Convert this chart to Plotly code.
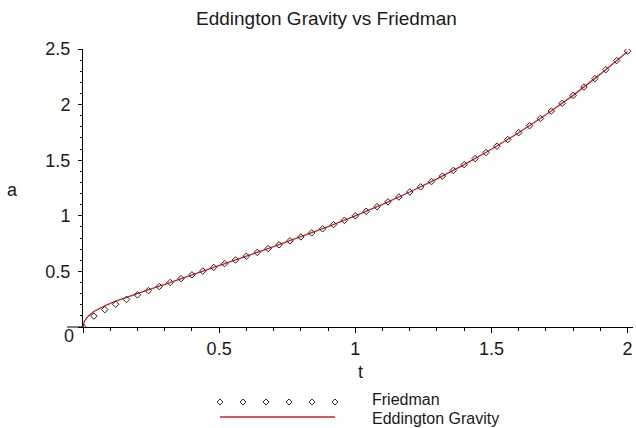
import plotly.graph_objects as go

# ---- data ----
friedman_t = [0.00, 0.04, 0.08, 0.12, 0.16, 0.20, 0.24, 0.28, 0.32, 0.36,
              0.40, 0.44, 0.48, 0.52, 0.56, 0.60, 0.64, 0.68, 0.72, 0.76,
              0.80, 0.84, 0.88, 0.92, 0.96, 1.00, 1.04, 1.08, 1.12, 1.16,
              1.20, 1.24, 1.28, 1.32, 1.36, 1.40, 1.44, 1.48, 1.52, 1.56,
              1.60, 1.64, 1.68, 1.72, 1.76, 1.80, 1.84, 1.88, 1.92, 1.96, 2.00]
friedman_a = [0.000, 0.098, 0.156, 0.205, 0.248, 0.289, 0.327, 0.364, 0.400, 0.435,
              0.469, 0.503, 0.536, 0.570, 0.603, 0.637, 0.671, 0.705, 0.739, 0.775,
              0.810, 0.846, 0.883, 0.921, 0.959, 1.000, 1.040, 1.082, 1.125, 1.169,
              1.214, 1.260, 1.308, 1.357, 1.408, 1.460, 1.514, 1.569, 1.626, 1.686,
              1.747, 1.810, 1.875, 1.942, 2.012, 2.083, 2.158, 2.234, 2.314, 2.396, 2.481]

eddington_t = [0.0, 0.005, 0.01, 0.02, 0.04, 0.08, 0.12, 0.16, 0.20, 0.25, 0.30,
               0.40, 0.50, 0.60, 0.70, 0.80, 0.90, 1.00, 1.10, 1.20, 1.30, 1.40,
               1.50, 1.60, 1.70, 1.80, 1.90, 2.00]
eddington_a = [0.0, 0.05, 0.07, 0.10, 0.14, 0.19, 0.232, 0.268, 0.300, 0.342, 0.383,
               0.470, 0.553, 0.637, 0.722, 0.810, 0.902, 1.000, 1.103, 1.214, 1.332, 1.460,
               1.598, 1.747, 1.908, 2.083, 2.274, 2.478]

x_tickvals = [0, 0.5, 1, 1.5, 2]
x_ticktext = ["", "0.5", "1", "1.5", "2"]
y_tickvals = [0, 0.5, 1, 1.5, 2, 2.5]
y_ticktext = ["", "0.5", "1", "1.5", "2", "2.5"]

title_text = "Eddington Gravity vs Friedman"
series_names = ["Friedman", "Eddington Gravity"]

# ---- layout geometry (pixels) ----
W, H = 636, 428
L, R, T, B = 83, 3, 49, 101
PW, PH = W - L - R, H - T - B
FONT = "Liberation Sans, Arial, sans-serif"
TXT = "#1a1a1a"
RED = "rgb(210,30,35)"


def px(x):
    return (x - L) / PW


def py(y):
    return (H - B - y) / PH


fig = go.Figure()
fig.add_trace(go.Scatter(x=eddington_t, y=eddington_a, mode="lines",
                         line=dict(color=RED, width=1.3), name=series_names[1],
                         showlegend=False))
fig.add_trace(go.Scatter(x=friedman_t, y=friedman_a, mode="markers",
                         marker=dict(symbol="diamond-open", size=5, color="#222222",
                                     line=dict(width=1, color="#222222")),
                         name=series_names[0], showlegend=False))

axis_common = dict(showgrid=False, zeroline=False, showline=True, linecolor="black",
                   linewidth=1, ticks="outside", tickcolor="black",
                   tickfont=dict(family=FONT, size=18, color=TXT))

fig.update_xaxes(range=[0, 2.02], tickvals=x_tickvals, ticktext=x_ticktext,
                 ticklen=5, minor=dict(dtick=0.1, ticklen=3, ticks="outside",
                                       tickcolor="black"),
                 **axis_common)
fig.update_yaxes(range=[0, 2.5], tickvals=y_tickvals, ticktext=y_ticktext,
                 ticklen=4, ticklabelstandoff=4,
                 minor=dict(dtick=0.1, ticklen=2, ticks="outside", tickcolor="black"),
                 **axis_common)

shapes = []
# short axis stub left of origin
shapes.append(dict(type="line", xref="paper", yref="paper",
                   x0=px(67), x1=px(83), y0=0, y1=0,
                   line=dict(color="black", width=1)))
# legend line
shapes.append(dict(type="line", xref="paper", yref="paper",
                   x0=px(220), x1=px(335), y0=py(417), y1=py(417),
                   line=dict(color=RED, width=1.5)))
# legend diamonds
for i in range(6):
    cx = 220 + i * 23
    shapes.append(dict(type="path", xref="paper", yref="paper",
                       xsizemode="pixel", ysizemode="pixel",
                       xanchor=px(cx), yanchor=py(402),
                       path="M 0,3 L 3,0 L 0,-3 L -3,0 Z",
                       line=dict(color="#333333", width=1), fillcolor="white"))

annotations = [
    dict(text=title_text, xref="paper", yref="paper", x=px(326), y=py(18),
         showarrow=False, xanchor="center", yanchor="middle",
         font=dict(family=FONT, size=19, color=TXT)),
    dict(text="t", xref="paper", yref="paper", x=px(360), y=py(372),
         showarrow=False, xanchor="center", yanchor="middle",
         font=dict(family=FONT, size=18, color=TXT)),
    dict(text="a", xref="paper", yref="paper", x=px(12), y=py(190),
         showarrow=False, xanchor="center", yanchor="middle",
         font=dict(family=FONT, size=18, color=TXT)),
    dict(text="0", xref="paper", yref="paper", x=px(69), y=py(336),
         showarrow=False, xanchor="center", yanchor="middle",
         font=dict(family=FONT, size=18, color=TXT)),
    dict(text=series_names[0], xref="paper", yref="paper", x=px(370), y=py(399),
         showarrow=False, xanchor="left", yanchor="middle",
         font=dict(family=FONT, size=16, color=TXT)),
    dict(text=series_names[1], xref="paper", yref="paper", x=px(370), y=py(418),
         showarrow=False, xanchor="left", yanchor="middle",
         font=dict(family=FONT, size=16, color=TXT)),
]

fig.update_layout(width=W, height=H, margin=dict(l=L, r=R, t=T, b=B),
                  paper_bgcolor="white", plot_bgcolor="white",
                  shapes=shapes, annotations=annotations, showlegend=False)

fig.write_html("out.html")
